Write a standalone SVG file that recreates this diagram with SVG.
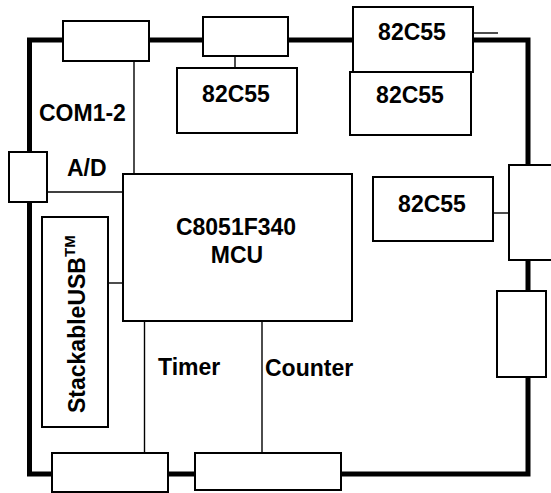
<svg xmlns="http://www.w3.org/2000/svg" width="551" height="493" viewBox="0 0 551 493">
<style>
.box{fill:#fff;stroke:#000;stroke-width:2}
.bus{fill:none;stroke:#000;stroke-width:5}
.wire{fill:none;stroke:#000;stroke-width:1.4}
text{font-family:"Liberation Sans",Arial,sans-serif;font-weight:bold;font-size:23px;fill:#000}
.c{text-anchor:middle}
</style>
<rect width="551" height="493" fill="#fff"/>
<g id="connectors">
<path class="bus" d="M63 40 H29.5 V474 H528 V40 H473"/>
<path class="bus" d="M149 40 H203 M288 40 H353"/>
<path class="wire" d="M473 33 H498"/>
<path class="wire" d="M134 61 V174"/>
<path class="wire" d="M235 56 V68"/>
<path class="wire" d="M47 192 H123"/>
<path class="wire" d="M108 283 H123"/>
<path class="wire" d="M493 213 H509"/>
<path class="wire" d="M144.5 321 V453"/>
<path class="wire" d="M262 321 V453"/>
</g>
<g id="com-connector"><rect class="box" x="63" y="21" width="86" height="40"/></g>
<g id="top-connector"><rect class="box" x="203" y="17" width="85" height="39"/></g>
<g id="ppi1"><rect class="box" x="177" y="68" width="120" height="65"/><text class="c" x="236" y="102">82C55</text></g>
<g id="ppi2"><rect class="box" x="353" y="7" width="120" height="65"/><text class="c" x="412" y="40">82C55</text></g>
<g id="ppi3"><rect class="box" x="350" y="72" width="121" height="63"/><text class="c" x="410" y="103">82C55</text></g>
<g id="ppi4"><rect class="box" x="373" y="177" width="120" height="64"/><text class="c" x="432" y="212">82C55</text></g>
<g id="ad-connector"><rect class="box" x="9" y="152" width="38" height="50"/></g>
<g id="mcu"><rect class="box" x="123" y="174" width="229" height="147"/><text class="c" x="236" y="235">C8051F340</text><text class="c" x="237" y="263">MCU</text></g>
<g id="stackableusb"><rect class="box" x="42" y="217" width="66" height="210"/><text transform="translate(85,413) rotate(-90)" x="0" y="0">StackableUSB<tspan font-size="15" dy="-10">TM</tspan></text></g>
<g id="right-connector1"><rect class="box" x="509" y="165" width="50" height="95"/></g>
<g id="right-connector2"><rect class="box" x="497" y="291" width="49" height="86"/></g>
<g id="bottom-connector1"><rect class="box" x="52" y="453" width="116" height="39"/></g>
<g id="bottom-connector2"><rect class="box" x="195" y="453" width="146" height="37"/></g>
<g id="labels">
<text x="39" y="121">COM1-2</text>
<text x="67" y="176">A/D</text>
<text x="158" y="375" font-size="20">Timer</text>
<text x="265" y="376">Counter</text>
</g>
</svg>
